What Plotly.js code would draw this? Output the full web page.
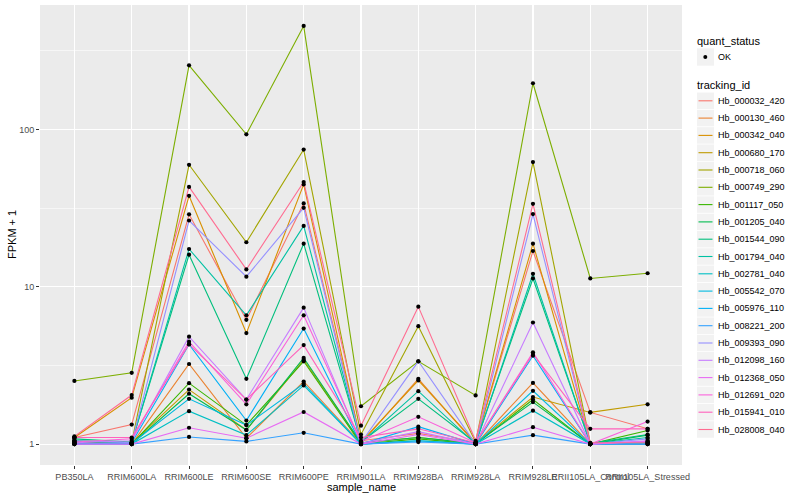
<!DOCTYPE html>
<html>
<head>
<meta charset="utf-8">
<script src="https://cdn.plot.ly/plotly-3.0.1.min.js"></script>
<style>html,body{margin:0;padding:0;background:#fff;}#chart{width:800px;height:500px;}</style>
</head>
<body>
<div id="chart"></div>
<script>
const samples = ['PB350LA','RRIM600LA','RRIM600LE','RRIM600SE','RRIM600PE','RRIM901LA','RRIM928BA','RRIM928LA','RRIM928LE','RRII105LA_Control','RRII105LA_Stressed'];

const trackingIds = ['Hb_000032_420','Hb_000130_460','Hb_000342_040','Hb_000680_170','Hb_000718_060','Hb_000749_290','Hb_001117_050','Hb_001205_040','Hb_001544_090','Hb_001794_040','Hb_002781_040','Hb_005542_070','Hb_005976_110','Hb_008221_200','Hb_009393_090','Hb_012098_160','Hb_012368_050','Hb_012691_020','Hb_015941_010','Hb_028008_040'];

const colors = ['#F8766D','#EA8331','#D89000','#C09B00','#A3A500','#7CAE00','#39B600','#00BB4E','#00BF7D','#00C1A3','#00BFC4','#00BAE0','#00B0F6','#35A2FF','#9590FF','#C77CFF','#E76BF3','#FA62DB','#FF62BC','#FF6C91'];

const quantStatus = ['OK'];

// FPKM + 1 per sample (same order as samples)
const hb_000032_420 = [1.10, 1.33, 28.9, 6.17, 33.9, 1.05, 1.17, 1.02, 16.9, 1.59, 1.25];
const hb_000130_460 = [1.02, 1.00, 3.23, 1.09, 2.50, 1.01, 2.60, 1.00, 2.45, 1.00, 1.00];
const hb_000342_040 = [1.10, 1.97, 37.9, 5.08, 44.8, 1.03, 2.54, 1.02, 18.8, 1.00, 1.03];
const hb_000680_170 = [1.02, 1.01, 2.22, 1.23, 3.43, 1.02, 1.10, 1.01, 1.99, 1.59, 1.79];
const hb_000718_060 = [1.05, 1.02, 59.7, 19.2, 74.6, 1.15, 5.62, 1.03, 62.1, 1.01, 1.00];
const hb_000749_290 = [2.52, 2.84, 256, 93.3, 456, 1.74, 3.36, 2.04, 197, 11.3, 12.2];
const hb_001117_050 = [1.02, 1.00, 2.44, 1.32, 3.36, 1.00, 1.08, 1.00, 1.92, 1.00, 1.22];
const hb_001205_040 = [1.04, 1.00, 2.09, 1.23, 3.53, 1.02, 1.10, 1.01, 1.85, 1.00, 1.14];
const hb_001544_090 = [1.08, 1.03, 16.0, 2.60, 18.8, 1.03, 1.94, 1.02, 11.3, 1.01, 1.15];
const hb_001794_040 = [1.05, 1.02, 17.4, 6.59, 24.4, 1.02, 2.17, 1.00, 12.1, 1.00, 1.10];
const hb_002781_040 = [1.00, 1.00, 1.62, 1.14, 2.36, 1.00, 1.05, 1.00, 1.63, 1.00, 1.02];
const hb_005542_070 = [1.00, 1.01, 1.94, 1.32, 2.42, 1.00, 1.05, 1.00, 2.18, 1.00, 1.02];
const hb_005976_110 = [1.00, 1.02, 4.30, 1.41, 5.43, 1.00, 1.29, 1.00, 3.65, 1.00, 1.00];
const hb_008221_200 = [1.00, 1.00, 1.11, 1.04, 1.18, 1.00, 1.03, 1.00, 1.14, 1.00, 1.00];
const hb_009393_090 = [1.05, 1.02, 26.4, 11.6, 31.8, 1.02, 3.36, 1.00, 29.0, 1.00, 1.08];
const hb_012098_160 = [1.02, 1.05, 4.82, 1.92, 7.37, 1.01, 1.20, 1.00, 5.93, 1.00, 1.05];
const hb_012368_050 = [1.00, 1.00, 1.27, 1.09, 1.60, 1.00, 1.15, 1.00, 1.28, 1.00, 1.04];
const hb_012691_020 = [1.03, 1.08, 4.48, 1.79, 6.59, 1.04, 1.49, 1.02, 3.83, 1.00, 1.39];
const hb_015941_010 = [1.10, 1.10, 4.32, 1.92, 4.26, 1.10, 1.25, 1.02, 3.74, 1.25, 1.25];
const hb_028008_040 = [1.12, 2.05, 43.2, 12.9, 46.4, 1.31, 7.48, 1.05, 33.7, 1.02, 1.02];

const seriesValues = [hb_000032_420, hb_000130_460, hb_000342_040, hb_000680_170, hb_000718_060, hb_000749_290, hb_001117_050, hb_001205_040, hb_001544_090, hb_001794_040, hb_002781_040, hb_005542_070, hb_005976_110, hb_008221_200, hb_009393_090, hb_012098_160, hb_012368_050, hb_012691_020, hb_015941_010, hb_028008_040];

const FONT = 'Liberation Sans, Arial, Helvetica, sans-serif';
const W = 800, H = 500;
const M = {l: 40, r: 118, t: 5, b: 35};
const PW = W - M.l - M.r, PH = H - M.t - M.b;
const pxX = p => (p - M.l) / PW;          // pixel -> paper x
const pxY = p => (H - M.b - p) / PH;      // pixel -> paper y

const traces = [];
trackingIds.forEach((id, k) => {
  traces.push({
    type: 'scatter', mode: 'lines', x: samples, y: seriesValues[k], name: id,
    line: {color: colors[k], width: 1.1}, showlegend: false, hoverinfo: 'skip'
  });
});
const px = [], py = [];
seriesValues.forEach(v => { v.forEach((val, i) => { px.push(samples[i]); py.push(val); }); });
traces.push({
  type: 'scatter', mode: 'markers', x: px, y: py, name: quantStatus[0],
  marker: {color: '#000000', size: 4.2}, showlegend: false, hoverinfo: 'skip'
});

// manual ggplot-style legend
const shapes = [], annotations = [];
const keyX0 = 697, keyX1 = 714, keyH = 17.3, labelX = 716;
annotations.push({xref: 'paper', yref: 'paper', x: pxX(695), y: pxY(40.5), xanchor: 'left', yanchor: 'middle',
  text: 'quant_status', showarrow: false, font: {size: 11, color: '#000', family: FONT}});
const okY = 57;
shapes.push({type: 'rect', xref: 'paper', yref: 'paper', x0: pxX(keyX0), x1: pxX(keyX1), y0: pxY(okY - keyH/2), y1: pxY(okY + keyH/2),
  fillcolor: '#F2F2F2', line: {width: 0}, layer: 'above'});
shapes.push({type: 'circle', xref: 'paper', yref: 'paper', x0: pxX(703.3), x1: pxX(707.3), y0: pxY(55), y1: pxY(59),
  fillcolor: '#000', line: {width: 0}, layer: 'above'});
annotations.push({xref: 'paper', yref: 'paper', x: pxX(labelX), y: pxY(okY), xanchor: 'left', yanchor: 'middle',
  text: quantStatus[0], showarrow: false, font: {size: 9, color: '#000', family: FONT}});
annotations.push({xref: 'paper', yref: 'paper', x: pxX(695), y: pxY(85), xanchor: 'left', yanchor: 'middle',
  text: 'tracking_id', showarrow: false, font: {size: 11, color: '#000', family: FONT}});
trackingIds.forEach((id, k) => {
  const cy = 100.8 + k * keyH;
  shapes.push({type: 'rect', xref: 'paper', yref: 'paper', x0: pxX(keyX0), x1: pxX(keyX1), y0: pxY(cy - keyH/2 + 0.4), y1: pxY(cy + keyH/2 - 0.4),
    fillcolor: '#F2F2F2', line: {width: 0}, layer: 'above'});
  shapes.push({type: 'line', xref: 'paper', yref: 'paper', x0: pxX(698.5), x1: pxX(712.5), y0: pxY(cy), y1: pxY(cy),
    line: {color: colors[k], width: 1.1}, layer: 'above'});
  annotations.push({xref: 'paper', yref: 'paper', x: pxX(labelX), y: pxY(cy), xanchor: 'left', yanchor: 'middle',
    text: id, showarrow: false, font: {size: 9, color: '#000', family: FONT}});
});
// axis titles
annotations.push({xref: 'paper', yref: 'paper', x: 0.5, y: pxY(487), xanchor: 'center', yanchor: 'middle',
  text: 'sample_name', showarrow: false, font: {size: 11, color: '#000', family: FONT}});
annotations.push({xref: 'paper', yref: 'paper', x: pxX(12), y: 0.5, xanchor: 'center', yanchor: 'middle', textangle: -90,
  text: 'FPKM + 1', showarrow: false, font: {size: 11, color: '#000', family: FONT}});

const layout = {
  width: W, height: H,
  margin: M,
  paper_bgcolor: '#FFFFFF', plot_bgcolor: '#EBEBEB',
  font: {family: FONT, size: 9, color: '#4D4D4D'},
  showlegend: false,
  xaxis: {
    type: 'category', categoryorder: 'array', categoryarray: samples,
    range: [-0.6, samples.length - 0.4],
    showgrid: true, gridcolor: '#FFFFFF', gridwidth: 1.1,
    zeroline: false, showline: false, tickangle: 0, automargin: false,
    ticks: 'outside', ticklen: 3, tickcolor: '#333333', tickwidth: 1,
    tickfont: {size: 9, color: '#4D4D4D', family: FONT}
  },
  yaxis: {
    type: 'log', range: [-0.133, 2.792], automargin: false,
    tickvals: [1, 10, 100], ticktext: ['1', '10', '100'],
    showgrid: true, gridcolor: '#FFFFFF', gridwidth: 1.1,
    minor: {tickmode: 'array', tickvals: [Math.pow(10, 0.5), Math.pow(10, 1.5), Math.pow(10, 2.5)], showgrid: true, gridcolor: '#FFFFFF', gridwidth: 0.55, ticks: ''},
    zeroline: false, showline: false,
    ticks: 'outside', ticklen: 3, tickcolor: '#333333', tickwidth: 1,
    tickfont: {size: 9, color: '#4D4D4D', family: FONT}
  },
  shapes: shapes,
  annotations: annotations,
  hovermode: false
};

Plotly.newPlot('chart', traces, layout, {displayModeBar: false, staticPlot: true});
</script>
</body>
</html>
